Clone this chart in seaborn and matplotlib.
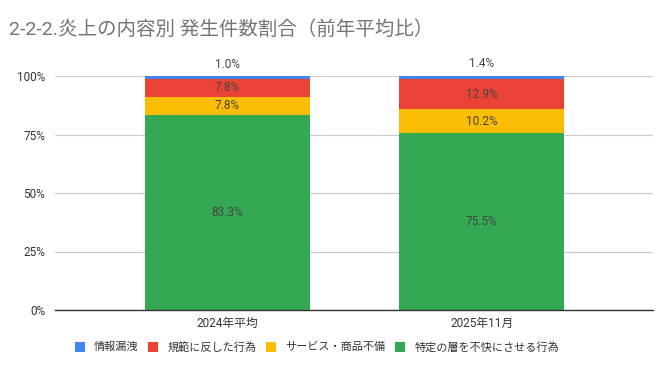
import matplotlib
matplotlib.use("Agg")
import matplotlib.pyplot as plt
import seaborn as sns
import numpy as np
import pandas as pd
from matplotlib.patches import Patch
from matplotlib.ticker import FuncFormatter

categories = ["2024年平均", "2025年11月"]
series_names = ["情報漏洩", "規範に反した行為", "サービス・商品不備", "特定の層を不快にさせる行為"]
leak = [1.0, 1.4]
norm = [7.8, 12.9]
service = [7.8, 10.2]
offend = [83.3, 75.5]
colors = ["#4285F4", "#EA4335", "#FBBC04", "#34A853"]
title = "2-2-2.炎上の内容別 発生件数割合（前年平均比）"

sns.set_theme(style="white")
FONTS = ["Roboto", "Noto Sans CJK JP", "DejaVu Sans"]
plt.rcParams["font.family"] = FONTS

fig = plt.figure(figsize=(6.71, 3.71), dpi=100)
ax = fig.add_axes([55 / 671, 1 - 310 / 371, 598 / 671, 234 / 371])

values = [leak, norm, service, offend]
# stack order: bottom green, yellow, red, blue top
stack_order = [3, 2, 1, 0]
bottom = np.zeros(len(categories))
for idx in stack_order:
    df = pd.DataFrame({"cat": categories, "val": values[idx]})
    sns.barplot(data=df, x="cat", y="val", color=colors[idx], width=0.65,
                bottom=bottom.copy(), saturation=1, ax=ax, linewidth=0, zorder=3)
    vals = np.array(values[idx])
    for i, v in enumerate(vals):
        if idx == 0:
            ax.annotate(f"{v:.1f}%", (i, bottom[i] + v), xytext=(0, 4),
                        textcoords="offset points", ha="center", va="bottom",
                        fontsize=8.5, color="#444444", annotation_clip=False)
        else:
            ax.text(i, bottom[i] + v / 2, f"{v:.1f}%", ha="center", va="center",
                    fontsize=8.5, color="#444444", zorder=5)
    bottom = bottom + vals

ax.set_ylim(0, 100)
ax.set_xlim(-0.679, 1.675)
ax.set_yticks([0, 25, 50, 75, 100])
ax.yaxis.set_major_formatter(FuncFormatter(lambda v, p: f"{v:.0f}%"))
ax.grid(axis="y", color="#cccccc", linewidth=0.9, zorder=0)
ax.grid(axis="x", visible=False)
for s in ["top", "right", "left"]:
    ax.spines[s].set_visible(False)
ax.spines["bottom"].set_color("#333333")
ax.spines["bottom"].set_linewidth(1.0)
ax.spines["bottom"].set_zorder(6)
ax.tick_params(axis="both", length=0, labelsize=8.5, colors="#333333")
ax.tick_params(axis="y", pad=7)
ax.tick_params(axis="x", pad=5)
ax.set_xlabel("")
ax.set_ylabel("")

fig.text(9 / 671, 1 - 30 / 371, title, fontsize=14, color="#757575",
         ha="left", va="center")

handles = [Patch(facecolor=c, edgecolor="none") for c in colors]
fig.legend(handles, series_names, loc="center", ncol=4,
           bbox_to_anchor=(317 / 671, 1 - 347 / 371), frameon=False,
           fontsize=8, handlelength=0.9, handleheight=1.0, columnspacing=0.9,
           handletextpad=0.8, labelcolor="#333333")

fig.savefig("out.png", dpi=100)
